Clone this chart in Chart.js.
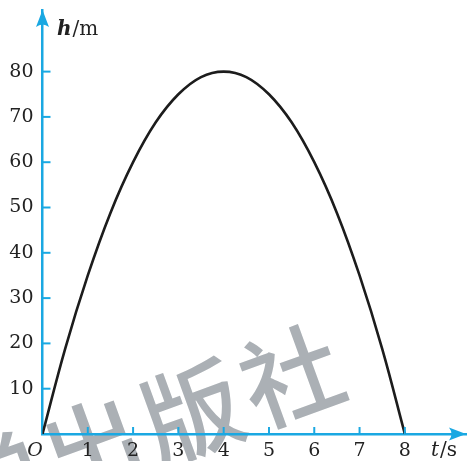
<!DOCTYPE html>
<html>
<head>
<meta charset="utf-8">
<script src="https://cdn.jsdelivr.net/npm/chart.js@4/dist/chart.umd.min.js"></script>
<style>
  html, body { margin: 0; padding: 0; background: #fff; }
  #wrap { width: 469px; height: 461px; }
</style>
</head>
<body>
<div id="wrap"><canvas id="c" width="469" height="461"></canvas></div>
<script>
// Flight time of the ball (s) and its height (m)
const times   = [0, 0.5, 1, 1.5, 2, 2.5, 3, 3.5, 4, 4.5, 5, 5.5, 6, 6.5, 7, 7.5, 8];
const heights = [0, 18.8, 35, 48.8, 60, 68.8, 75, 78.8, 80, 78.8, 75, 68.8, 60, 48.8, 35, 18.8, 0];

// Tick labels on each axis
const xTicks = [1, 2, 3, 4, 5, 6, 7, 8];
const yTicks = [10, 20, 30, 40, 50, 60, 70, 80];

// Watermark text
const stampChars = ['学', '出', '版', '社'];

const AXIS = '#1aa8e2';
const INK = '#222222';
const SERIF = '"DejaVu Serif", "Liberation Serif", serif';

const axisDecor = {
  id: 'axisDecor',
  beforeDraw(chart) {
    const ctx = chart.ctx;
    ctx.save();
    ctx.fillStyle = '#abb0b5';
    ctx.font = '500 100px "Noto Sans CJK SC"';
    ctx.textAlign = 'center';
    ctx.textBaseline = 'middle';
    const ang = -20 * Math.PI / 180;
    const base = { x: 192, y: 412 };
    const step = 106;
    stampChars.forEach((ch, i) => {
      const k = i - 2;
      const cx = base.x + k * step * Math.cos(ang);
      const cy = base.y + k * step * Math.sin(ang);
      ctx.save();
      ctx.translate(cx, cy);
      ctx.rotate(ang);
      ctx.fillText(ch, 0, 0);
      ctx.restore();
    });
    ctx.restore();
  },
  afterDraw(chart) {
    const ctx = chart.ctx;
    const xs = chart.scales.x, ys = chart.scales.y;
    const a = chart.chartArea;
    const ox = xs.getPixelForValue(0), oy = ys.getPixelForValue(0);
    ctx.save();
    ctx.strokeStyle = AXIS;
    ctx.fillStyle = AXIS;
    ctx.lineWidth = 2;
    // inward tick marks
    xTicks.forEach(v => {
      const px = xs.getPixelForValue(v);
      ctx.beginPath(); ctx.moveTo(px, oy); ctx.lineTo(px, oy - 7); ctx.stroke();
    });
    yTicks.forEach(v => {
      const py = ys.getPixelForValue(v);
      ctx.beginPath(); ctx.moveTo(ox, py); ctx.lineTo(ox + 8, py); ctx.stroke();
    });
    // arrowheads
    const tipY = a.top;
    ctx.beginPath();
    ctx.moveTo(ox, tipY);
    ctx.lineTo(ox + 6.5, tipY + 17);
    ctx.quadraticCurveTo(ox, tipY + 12, ox - 6.5, tipY + 17);
    ctx.closePath(); ctx.fill();
    const tipX = a.right;
    ctx.beginPath();
    ctx.moveTo(tipX, oy);
    ctx.lineTo(tipX - 17, oy - 6.5);
    ctx.quadraticCurveTo(tipX - 12, oy, tipX - 17, oy + 6.5);
    ctx.closePath(); ctx.fill();

    // axis titles and origin
    ctx.fillStyle = INK;
    ctx.textBaseline = 'alphabetic';
    ctx.textAlign = 'left';
    ctx.font = 'italic bold 20px ' + SERIF;
    ctx.fillText('h', 57, 35);
    const hw = ctx.measureText('h').width;
    ctx.font = '20px ' + SERIF;
    ctx.fillText('/m', 57 + hw + 1, 35);

    ctx.textBaseline = 'middle';
    ctx.font = 'italic 20px ' + SERIF;
    ctx.fillText('t', 431, 451);
    const tw = ctx.measureText('t').width;
    ctx.font = '20px ' + SERIF;
    ctx.fillText('/s', 431 + tw + 1, 451);

    ctx.font = 'italic 19px ' + SERIF;
    ctx.textAlign = 'center';
    ctx.fillText('O', 35, 451);
    ctx.restore();
  }
};

new Chart(document.getElementById('c'), {
  type: 'line',
  data: {
    datasets: [{
      data: times.map((t, i) => ({ x: t, y: heights[i] })),
      borderColor: '#1c1c1c',
      borderWidth: 2.6,
      pointRadius: 0,
      tension: 0.4,
      fill: false
    }]
  },
  options: {
    responsive: false,
    devicePixelRatio: 1,
    animation: false,
    layout: { padding: { left: 0, right: 3, top: 10, bottom: 0 } },
    plugins: { legend: { display: false }, tooltip: { enabled: false } },
    scales: {
      x: {
        type: 'linear',
        min: 0,
        max: 9.35,
        afterFit(s) { s.height = 27; s.paddingLeft = 0; s.paddingRight = 0; },
        afterBuildTicks(s) { s.ticks = xTicks.map(v => ({ value: v })); },
        grid: { drawOnChartArea: false, drawTicks: false, color: AXIS },
        border: { display: true, color: AXIS, width: 2.5 },
        ticks: {
          autoSkip: false, maxRotation: 0, padding: 6,
          color: INK, font: { family: SERIF, size: 19 }
        }
      },
      y: {
        type: 'linear',
        min: 0,
        max: 93.6,
        afterFit(s) { s.width = 42.5; s.paddingTop = 0; s.paddingBottom = 0; },
        afterBuildTicks(s) { s.ticks = yTicks.map(v => ({ value: v })); },
        grid: { drawOnChartArea: false, drawTicks: false, color: AXIS },
        border: { display: true, color: AXIS, width: 2.5 },
        ticks: {
          padding: 9,
          color: INK, font: { family: SERIF, size: 19 }
        }
      }
    }
  },
  plugins: [axisDecor]
});
</script>
</body>
</html>
